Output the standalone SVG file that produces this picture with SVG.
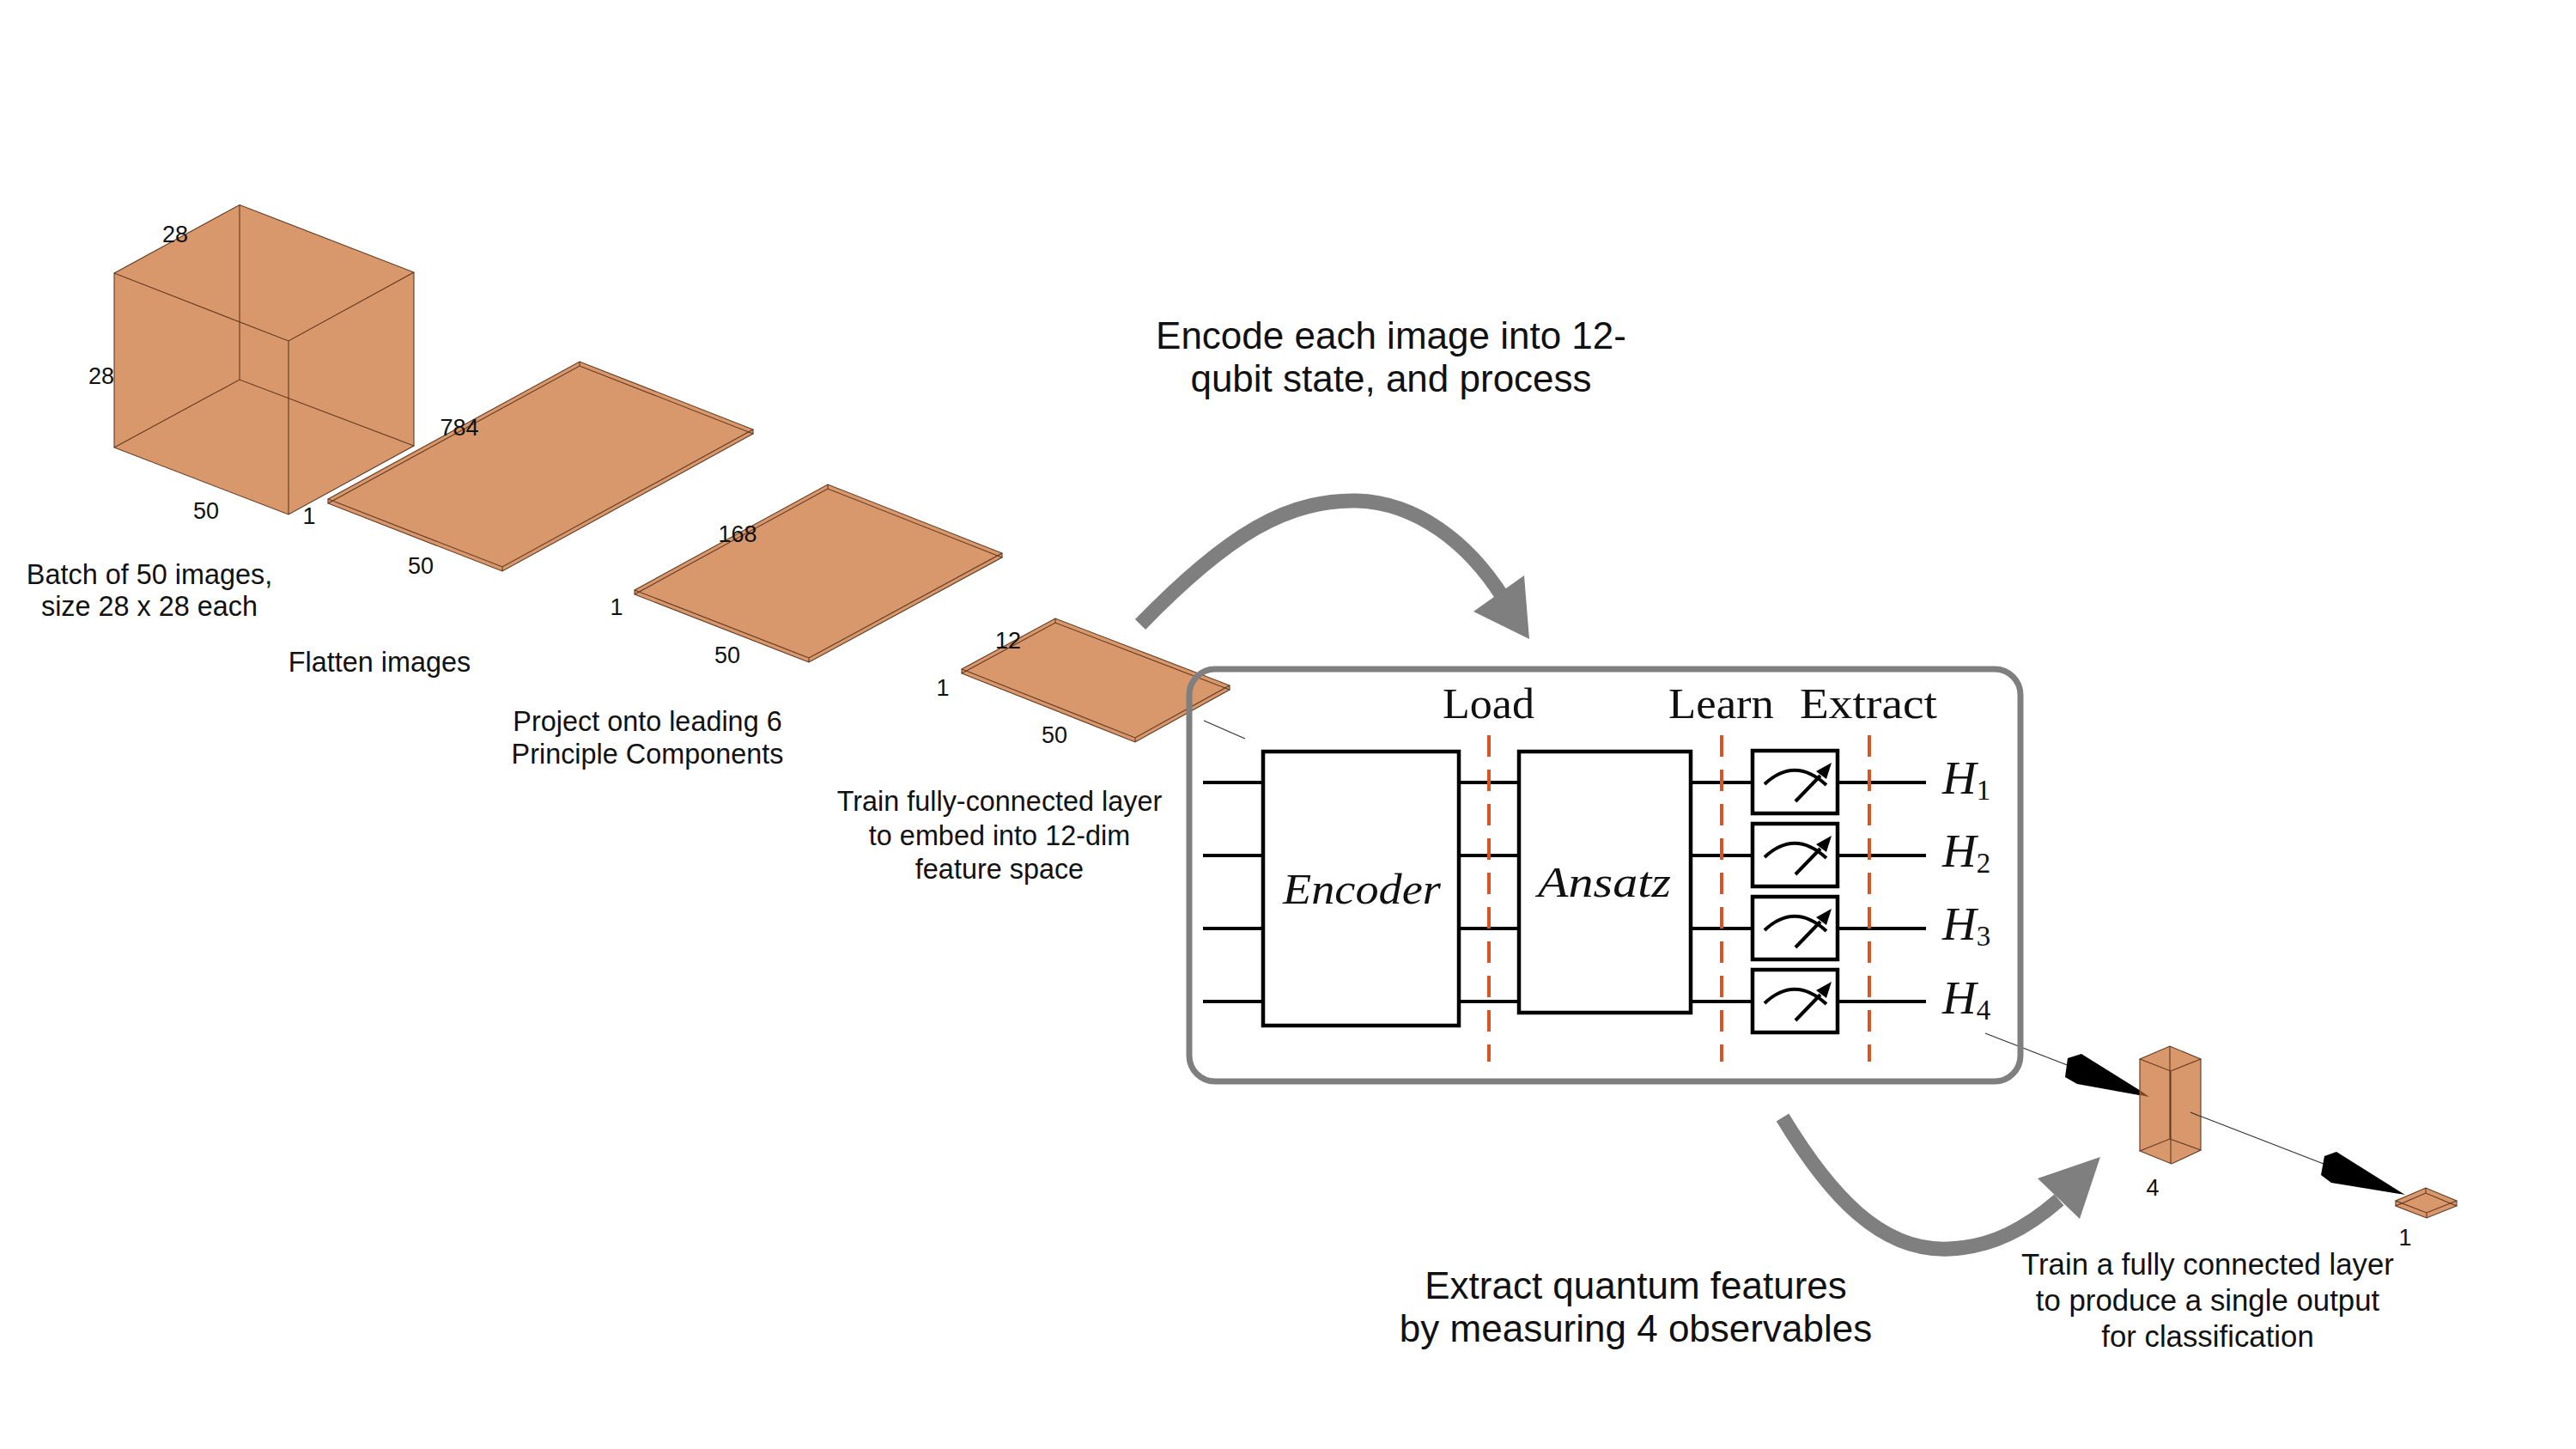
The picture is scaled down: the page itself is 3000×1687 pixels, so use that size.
<svg xmlns="http://www.w3.org/2000/svg" width="3000" height="1687" viewBox="0 0 3000 1687">
<defs>
<style>
.f{fill:#d9976c;stroke:none}
.e{fill:none;stroke:#5f3a22;stroke-width:1.1}
.t{font-family:"Liberation Sans",Arial,sans-serif;fill:#111;text-anchor:middle}
.d{font-size:27px}
.c{font-size:32.4px}
.c2{font-size:34.8px}
.b{font-size:44px}
.s{font-family:"Liberation Serif","Times New Roman",serif;fill:#111;font-size:50px}
.i{font-style:italic}
.h{font-size:55px}
.w{stroke:#000;stroke-width:4;fill:none}
.bx{stroke:#000;stroke-width:4.5;fill:none}
.o{stroke:#d9541e;stroke-width:4;stroke-dasharray:25 15;fill:none}
.g{stroke:#7f7f7f;fill:none}
.th{stroke:#333;stroke-width:1.3;fill:none}
</style>
<g id="meter">
<rect class="bx" x="0" y="0" width="99" height="73"/>
<path d="M14,39 Q49,6 86,40" fill="none" stroke="#000" stroke-width="4"/>
<path d="M50,59 L79,29" fill="none" stroke="#000" stroke-width="4"/>
<path d="M92,14 L86,33 L74,24 Z" fill="#000"/>
</g>
</defs>
<rect width="3000" height="1687" fill="#fff"/>

<g id="node-cube">
<polygon class="f" points="133,318 279,238.5 482,317 482,519 336,599 133,521"/>
<path class="e" d="M133,318 L279,238.5 L482,317 L336,397 Z M133,521 L279,442 L482,519 L336,599 Z M133,318 V521 M279,238.5 V442 M482,317 V519 M336,397 V599"/>
<text class="t d" x="204" y="282">28</text>
<text class="t d" x="118" y="447">28</text>
<text class="t d" x="240" y="604">50</text>
<text class="t d" x="360" y="610">1</text>
<text class="t c" x="174" y="680">Batch of 50 images,</text>
<text class="t c" x="174" y="717">size 28 x 28 each</text>
</g>

<g id="node-flatten">
<polygon class="f" points="382,581 675,421 877,500 877,505 585,665 382,586"/>
<path class="e" d="M382,581 L675,421 L877,500 L585,660 Z M382,586 L675,426 L877,505 L585,665 Z M382,581 V586 M675,421 V426 M877,500 V505 M585,660 V665"/>
<text class="t d" x="535" y="507">784</text>
<text class="t d" x="490" y="668">50</text>
<text class="t c" x="442" y="782">Flatten images</text>
</g>

<g id="node-pca">
<polygon class="f" points="739,687 964,564 1167,644 1167,649 942,771 739,692"/>
<path class="e" d="M739,687 L964,564 L1167,644 L942,766 Z M739,692 L964,569 L1167,649 L942,771 Z M739,687 V692 M964,564 V569 M1167,644 V649 M942,766 V771"/>
<text class="t d" x="859" y="631">168</text>
<text class="t d" x="718" y="716">1</text>
<text class="t d" x="847" y="772">50</text>
<text class="t c" x="754" y="851">Project onto leading 6</text>
<text class="t c" x="754" y="889">Principle Components</text>
</g>

<g id="node-embed">
<polygon class="f" points="1120,779 1229,720 1432,798 1432,803 1322,864 1120,784"/>
<path class="e" d="M1120,779 L1229,720 L1432,798 L1322,859 Z M1120,784 L1229,725 L1432,803 L1322,864 Z M1120,779 V784 M1229,720 V725 M1432,798 V803 M1322,859 V864"/>
<text class="t d" x="1174" y="755">12</text>
<text class="t d" x="1098" y="810">1</text>
<text class="t d" x="1228" y="865">50</text>
<text class="t c" x="1164" y="944">Train fully-connected layer</text>
<text class="t c" x="1164" y="984">to embed into 12-dim</text>
<text class="t c" x="1164" y="1023">feature space</text>
</g>

<g id="connectors">
<line class="th" x1="1402" y1="839" x2="1450" y2="860"/>
<line class="th" x1="2312" y1="1203" x2="2410" y2="1241"/>
<polygon points="2408,1232 2424,1227 2493,1270 2503,1277 2491,1275 2419,1262 2405,1254" fill="#000"/>
<line class="th" x1="2551" y1="1295" x2="2706" y2="1355"/>
<polygon points="2707,1346 2721,1341 2801,1391 2715,1377 2703,1368" fill="#000"/>
<path class="g" stroke-width="17" d="M1328,727 C1430,622 1500,581 1580,583 C1650,585 1710,632 1750,695"/>
<polygon points="1781,744 1716,712 1775,670" fill="#7f7f7f"/>
<path class="g" stroke-width="17" d="M2076,1301 C2130,1390 2190,1458 2270,1454 C2320,1452 2360,1430 2398,1397"/>
<polygon points="2446,1347 2373,1372 2422,1419" fill="#7f7f7f"/>
</g>

<g id="node-circuit">
<rect x="1385" y="779" width="968" height="480" rx="30" ry="30" fill="none" stroke="#7f7f7f" stroke-width="7"/>
<path class="w" d="M1401,911 H1471 M1401,996 H1471 M1401,1081 H1471 M1401,1166 H1471 M1699,911 H1769 M1699,996 H1769 M1699,1081 H1769 M1699,1166 H1769 M1969,911 H2041 M1969,996 H2041 M1969,1081 H2041 M1969,1166 H2041 M2140,911 H2243 M2140,996 H2243 M2140,1081 H2243 M2140,1166 H2243"/>
<rect class="bx" x="1471" y="875" width="228" height="319"/>
<rect class="bx" x="1769" y="875" width="200" height="304"/>
<use href="#meter" x="2041" y="874"/>
<use href="#meter" x="2041" y="959"/>
<use href="#meter" x="2041" y="1044"/>
<use href="#meter" x="2041" y="1129"/>
<path class="o" d="M1734,856 V1236 M2005,856 V1236 M2177,856 V1236"/>
<text class="s" x="1680" y="836" textLength="107" lengthAdjust="spacingAndGlyphs">Load</text>
<text class="s" x="1943" y="836" textLength="123" lengthAdjust="spacingAndGlyphs">Learn</text>
<text class="s" x="2096" y="836" textLength="160" lengthAdjust="spacingAndGlyphs">Extract</text>
<text class="s i" x="1494" y="1052" textLength="184" lengthAdjust="spacingAndGlyphs">Encoder</text>
<text class="s i" x="1791" y="1044" textLength="155" lengthAdjust="spacingAndGlyphs">Ansatz</text>
<text class="s" x="2262" y="924"><tspan class="i h">H</tspan><tspan font-size="33" dy="7">1</tspan></text>
<text class="s" x="2262" y="1009"><tspan class="i h">H</tspan><tspan font-size="33" dy="7">2</tspan></text>
<text class="s" x="2262" y="1094"><tspan class="i h">H</tspan><tspan font-size="33" dy="7">3</tspan></text>
<text class="s" x="2262" y="1180"><tspan class="i h">H</tspan><tspan font-size="33" dy="7">4</tspan></text>
</g>

<g id="node-features">
<polygon class="f" points="2492,1233 2527,1218 2563,1233 2563,1339 2529,1355 2492,1340"/>
<path class="e" d="M2492,1233 L2527,1218 L2563,1233 L2528,1247 Z M2492,1340 L2527,1326 L2563,1339 L2529,1355 Z M2492,1233 V1340 M2527,1218 V1326 M2563,1233 V1339 M2528,1247 V1355"/>
<polygon points="2493,1270 2503,1277 2493,1275" fill="#7a4420"/>
<line class="th" x1="2551" y1="1295" x2="2563" y2="1300"/>
<text class="t d" x="2507" y="1392">4</text>
</g>

<g id="node-output">
<polygon class="f" points="2790,1398 2825,1383 2861,1398 2861,1404 2826,1418 2790,1404"/>
<path class="e" d="M2790,1398 L2825,1383 L2861,1398 L2826,1412 Z M2790,1404 L2825,1389 L2861,1404 L2826,1418 Z M2790,1398 V1404 M2825,1383 V1389 M2861,1398 V1404 M2826,1412 V1418"/>
<text class="t d" x="2801" y="1450">1</text>
<text class="t c2" x="2571" y="1484">Train a fully connected layer</text>
<text class="t c2" x="2571" y="1526">to produce a single output</text>
<text class="t c2" x="2571" y="1568">for classification</text>
</g>

<g id="captions">
<text class="t b" x="1620" y="406">Encode each image into 12-</text>
<text class="t b" x="1620" y="456">qubit state, and process</text>
<text class="t b" x="1905" y="1512">Extract quantum features</text>
<text class="t b" x="1905" y="1562">by measuring 4 observables</text>
</g>
</svg>
